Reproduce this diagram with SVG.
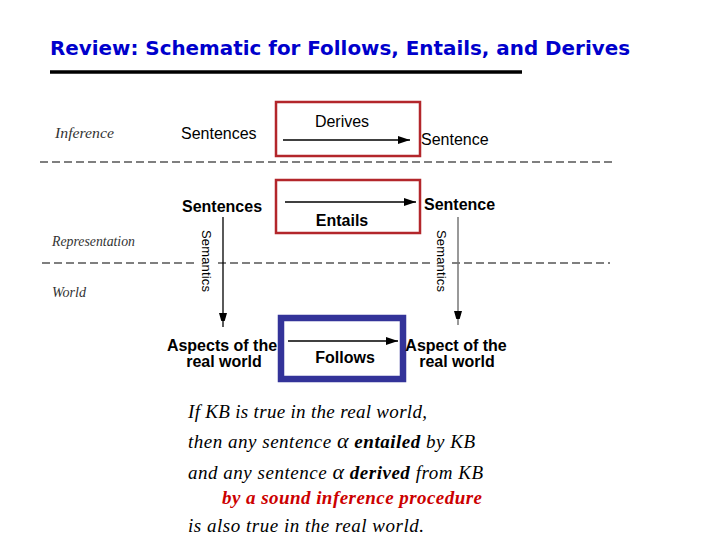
<svg xmlns="http://www.w3.org/2000/svg" width="720" height="540" viewBox="0 0 720 540">
<style>
.title{font-family:"DejaVu Sans",Verdana,sans-serif;font-weight:bold;font-size:19px;fill:#0000cc}
.lbl{font-family:"Liberation Sans",Arial,sans-serif;font-size:16px;fill:#000}
.b{font-weight:bold}
.it{font-family:"Liberation Serif","Times New Roman",serif;font-style:italic;fill:#000}
.small{font-size:14px;fill:#333}
.body{font-size:19px}
.dash{stroke:#000;stroke-width:1.2;stroke-dasharray:8 4;fill:none}
.redbox{fill:none;stroke:#b3262b;stroke-width:2.5}
.bluebox{fill:none;stroke:#333399;stroke-width:6.5}
.arr{stroke:#000;stroke-width:1.5;fill:none;marker-end:url(#ah)}
.sem{font-family:"Liberation Sans",Arial,sans-serif;font-size:13px;fill:#000}
</style>
<defs>
<marker id="ah" markerWidth="12" markerHeight="8" refX="12" refY="4" orient="auto" markerUnits="userSpaceOnUse">
<path d="M0,0 L12,4 L0,8 Z" fill="#000"/>
</marker>
<marker id="ahg" markerWidth="8" markerHeight="14" refX="14" refY="4" orient="auto" markerUnits="userSpaceOnUse">
<path d="M0,0 L14,4 L0,8 Z" fill="#000"/>
</marker>
</defs>
<rect width="720" height="540" fill="#fff"/>
<text class="title" x="50" y="55" textLength="580" lengthAdjust="spacingAndGlyphs">Review: Schematic for Follows, Entails, and Derives</text>
<line x1="50" y1="72" x2="522" y2="72" stroke="#000" stroke-width="3.5"/>

<g id="layer-labels">
<text class="it small" x="55" y="138" textLength="59" lengthAdjust="spacingAndGlyphs" font-size="15">Inference</text>
<text class="it small" x="52" y="246" textLength="83" lengthAdjust="spacingAndGlyphs">Representation</text>
<text class="it small" x="52" y="297" textLength="34" lengthAdjust="spacingAndGlyphs">World</text>
</g>

<g id="derives">
<rect class="redbox" x="276" y="102" width="144" height="54"/>
<text class="lbl" x="342" y="127" text-anchor="middle">Derives</text>
</g>
<g id="inf-sentences"><text class="lbl" x="181" y="139">Sentences</text></g>
<g id="inf-sentence"><text class="lbl" x="421" y="145">Sentence</text></g>

<g id="entails">
<rect class="redbox" x="276" y="180" width="144" height="53"/>
<text class="lbl b" x="342" y="226" text-anchor="middle">Entails</text>
</g>
<g id="rep-sentences"><text class="lbl b" x="182" y="212">Sentences</text></g>
<g id="rep-sentence"><text class="lbl b" x="424" y="210">Sentence</text></g>

<g id="follows">
<rect class="bluebox" x="281" y="318" width="122" height="61"/>
<text class="lbl b" x="345" y="363" text-anchor="middle">Follows</text>
</g>
<g id="world-left"><text class="lbl b" text-anchor="middle"><tspan x="222" y="351">Aspects of the</tspan><tspan x="224" y="367">real world</tspan></text></g>
<g id="world-right"><text class="lbl b" text-anchor="middle"><tspan x="456" y="351">Aspect of the</tspan><tspan x="457" y="367">real world</tspan></text></g>

<g id="dividers">
<line class="dash" x1="40" y1="162" x2="612" y2="162"/>
<line class="dash" x1="42" y1="263" x2="195" y2="263"/>
<line class="dash" x1="218" y1="263" x2="433" y2="263"/>
<line class="dash" x1="452" y1="263" x2="610" y2="263"/>
</g>

<g id="connectors">
<line class="arr" x1="283" y1="140" x2="410" y2="140" stroke-width="2"/>
<line class="arr" x1="285" y1="202" x2="416" y2="202"/>
<line class="arr" x1="288" y1="341" x2="398" y2="341"/>
<line x1="223" y1="217" x2="223" y2="327" stroke="#000" stroke-width="1.3" marker-end="url(#ahg)"/>
<line x1="458" y1="217" x2="458" y2="325" stroke="#777" stroke-width="1.5" marker-end="url(#ahg)"/>
<text class="sem" transform="translate(202,230) rotate(90)" textLength="62">Semantics</text>
<text class="sem" transform="translate(437,230) rotate(90)" textLength="62">Semantics</text>
</g>

<g id="notes">
<text class="it body" x="188" y="418" textLength="239">If KB is true in the real world,</text>
<text class="it body" x="188" y="448" textLength="287">then any sentence <tspan font-size="22">α</tspan> <tspan font-weight="bold">entailed</tspan> by KB</text>
<text class="it body" x="188" y="479" textLength="295">and any sentence <tspan font-size="22">α</tspan> <tspan font-weight="bold">derived</tspan> from KB</text>
<text class="it body" x="222" y="504" textLength="260" font-weight="bold" style="fill:#cc0000">by a sound inference procedure</text>
<text class="it body" x="188" y="532" textLength="236">is also true in the  real world.</text>
</g>
</svg>
